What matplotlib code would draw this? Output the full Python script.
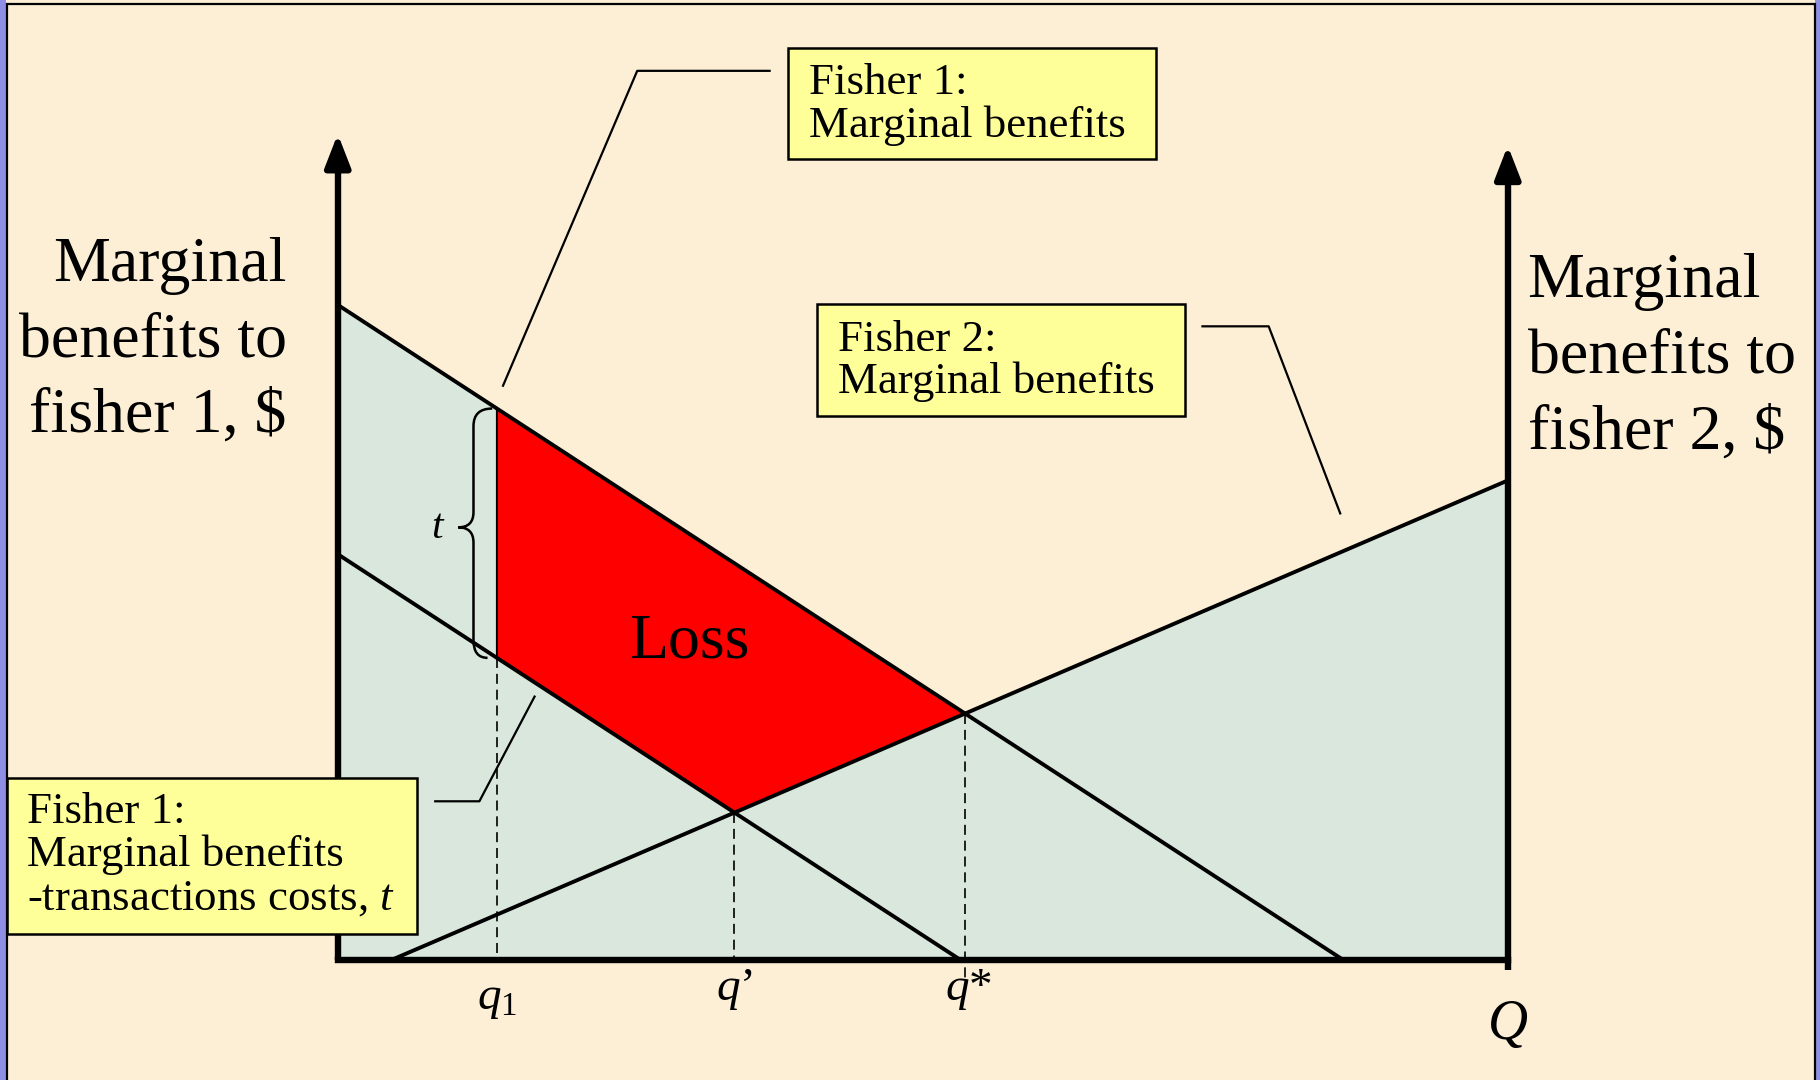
import numpy as np
import matplotlib
matplotlib.use("Agg")
import matplotlib.pyplot as plt
from matplotlib.patches import Rectangle, Polygon, PathPatch
from matplotlib.path import Path

# ---------------- data (economic units) ----------------
mb1_q = [0.0, 86.0]        # Fisher 1 marginal benefits
mb1_v = [56.0, 0.0]
t_cost = 21.3              # transaction cost t
mb2_q = [4.5, 100.0]       # Fisher 2 marginal benefits (measured from right)
mb2_v = [0.0, 41.0]
q1 = 13.6
q_max = 100.0
left_axis_top = 70.6
right_axis_top = 69.6

# ---------------- style / fonts ----------------
plt.rcParams['font.family'] = ['Liberation Serif', 'DejaVu Serif']
plt.rcParams['mathtext.fontset'] = 'custom'
plt.rcParams['mathtext.rm'] = 'Liberation Serif'
plt.rcParams['mathtext.it'] = 'Liberation Serif:italic'

BG = '#fcefd6'
FILL = '#d9e7dc'
RED = '#ff0000'
BOX = '#ffff99'

S = 10.08  # reference px per unit


def P(x, y):
    """Layout helper: reference-image position -> data coordinates."""
    return ((x - 291) / S, (827 - y) / S)


fig = plt.figure(figsize=(18.2, 10.8), dpi=100)
fig.patch.set_facecolor(BG)
ax = fig.add_axes([0, 0, 1, 1])
ax.set_xlim(-291 / S, (1568 - 291) / S)
ax.set_ylim(-(930 - 827) / S, 827 / S)
ax.axis('off')
ax.set_facecolor(BG)

# side strips and frame
fig.patches.append(Rectangle((0, 0), 0.0035, 1, transform=fig.transFigure,
                             facecolor='#8f8fe6', edgecolor='none', zorder=0))
fig.patches.append(Rectangle((0.9975, 0), 0.0025, 1, transform=fig.transFigure,
                             facecolor='#8f8fe6', edgecolor='none', zorder=0))
fig.patches.append(Rectangle((0.0038, -0.02), 0.9935, 1.016, transform=fig.transFigure,
                             facecolor='none', edgecolor='black', lw=1.6, zorder=1))


# lines as functions
def mb1(q):
    return np.interp(q, mb1_q, mb1_v)


def mb1t(q):
    return mb1(q) - t_cost


s1 = (mb1_v[0] - mb1_v[1]) / (mb1_q[1] - mb1_q[0])
s2 = (mb2_v[1] - mb2_v[0]) / (mb2_q[1] - mb2_q[0])


def mb2(q):
    return mb2_v[0] + s2 * (q - mb2_q[0])


# intersections
q_star = (mb1_v[0] + s2 * mb2_q[0]) / (s1 + s2)
q_prime = (mb1_v[0] - t_cost + s2 * mb2_q[0]) / (s1 + s2)
v_star = mb2(q_star)
v_prime = mb2(q_prime)
q_zero_t = (mb1_v[0] - t_cost) / s1

# shaded area: under fisher-1 MB left of q*, under fisher-2 MB right of q*
qq = np.array([0, q_star, q_max])
top = np.array([mb1(0), v_star, mb2(q_max)])
ax.fill_between(qq, 0, top, color=FILL, lw=0, zorder=2)

# Loss polygon
loss = Polygon([(q1, mb1(q1)), (q_star, v_star), (q_prime, v_prime), (q1, mb1t(q1))],
               closed=True, facecolor=RED, edgecolor='black', lw=1.4, zorder=3)
ax.add_patch(loss)

# curves
LW = 2.8
ax.plot(mb1_q, mb1_v, color='black', lw=LW, zorder=5, solid_capstyle='butt')
ax.plot([0, q_zero_t], [mb1t(0), 0], color='black', lw=LW, zorder=5, solid_capstyle='butt')
ax.plot([mb2_q[0], q_max], [0, mb2(q_max)], color='black', lw=LW, zorder=5, solid_capstyle='butt')

# dashed guide lines
dash = dict(color='black', lw=1.2, dashes=(6, 3.5), zorder=4)
ax.plot([q1, q1], [mb1t(q1), 0], **dash)
ax.plot([q_prime, q_prime], [v_prime, 0], **dash)
ax.plot([q_star, q_star], [v_star, -2.1], **dash)

# axes
AW = 4.6
ax.plot([0, q_max], [0, 0], color='black', lw=AW, zorder=6, solid_capstyle='projecting')
ax.plot([q_max, q_max], [-0.8, right_axis_top - 2], color='black', lw=AW, zorder=6,
        solid_capstyle='butt')
ax.plot([0, 0], [0, left_axis_top - 2], color='black', lw=AW, zorder=6, solid_capstyle='butt')
for xa, ya in [(0, left_axis_top), (q_max, right_axis_top)]:
    ax.annotate('', xy=(xa, ya), xytext=(xa, ya - 2.5),
                arrowprops=dict(arrowstyle='-|>,head_length=0.9,head_width=0.35',
                                color='black', lw=AW, shrinkA=0, shrinkB=0,
                                mutation_scale=22), zorder=6)

# brace for t
vt, vb = mb1(q1), mb1t(q1)
vm = (vt + vb) / 2 + 0.5
xs = q1 - 2.0
xtip = q1 - 3.3
verts = [(q1 - 0.4, vt), (xs, vt), (xs, vt - 1.5),
         (xs, vm + 1.3),
         (xs, vm), (xtip, vm),
         (xs, vm), (xs, vm - 1.3),
         (xs, vb + 1.5),
         (xs, vb), (q1 - 0.8, vb)]
codes = [Path.MOVETO, Path.CURVE3, Path.CURVE3,
         Path.LINETO,
         Path.CURVE3, Path.CURVE3,
         Path.CURVE3, Path.CURVE3,
         Path.LINETO,
         Path.CURVE3, Path.CURVE3]
ax.add_patch(PathPatch(Path(verts, codes), facecolor='none', edgecolor='black',
                       lw=1.8, zorder=6))
ax.text(*P(384, 463), '$t$', fontsize=30, ha='right', va='baseline', zorder=7)

# leader lines
LL = dict(color='black', lw=1.6, zorder=6, solid_capstyle='butt')
ax.plot(*zip(P(433, 333), P(549, 61), P(664, 61)), **LL)
ax.plot(*zip(P(1035, 281), P(1093, 281), P(1155, 443)), **LL)
ax.plot(*zip(P(461, 599), P(413, 690), P(374, 690)), **LL)


# text boxes
def box(x0, y0, x1, y1):
    (ax0, ay0), (ax1, ay1) = P(x0, y1), P(x1, y0)
    ax.add_patch(Rectangle((ax0, ay0), ax1 - ax0, ay1 - ay0, facecolor=BOX,
                           edgecolor='black', lw=1.8, zorder=8))


BFS = 32.3
box(679, 41, 996, 137)
ax.text(*P(697, 81), 'Fisher 1:', fontsize=BFS, va='baseline', zorder=9)
ax.text(*P(697, 118), 'Marginal benefits', fontsize=BFS, va='baseline', zorder=9)

box(704, 262, 1021, 358)
ax.text(*P(722, 302), 'Fisher 2:', fontsize=BFS, va='baseline', zorder=9)
ax.text(*P(722, 338), 'Marginal benefits', fontsize=BFS, va='baseline', zorder=9)

box(6, 670, 359, 804)
ax.text(*P(23, 709), 'Fisher 1:', fontsize=BFS, va='baseline', zorder=9)
ax.text(*P(23, 746), 'Marginal benefits', fontsize=BFS, va='baseline', zorder=9)
ax.text(*P(23, 783), '-transactions costs, $t$', fontsize=BFS, va='baseline', zorder=9)

# axis titles
TFS = 46
for txt, yb in [('Marginal', 242), ('benefits to', 307), ('fisher 1, $', 372)]:
    ax.text(*P(247, yb), txt, fontsize=TFS, ha='right', va='baseline', zorder=7)
for txt, yb in [('Marginal', 256), ('benefits to', 321), ('fisher 2, $', 386)]:
    ax.text(*P(1316, yb), txt, fontsize=TFS, ha='left', va='baseline', zorder=7)

# Loss label
ax.text(*P(594, 566), 'Loss', fontsize=46, ha='center', va='baseline', zorder=7)

# quantity labels
ax.text(q1, P(0, 869)[1], '$q_1$', fontsize=34, ha='center', va='baseline', zorder=7)
ax.text(q_prime, P(0, 861)[1], '$q$\u2019', fontsize=34, ha='center', va='baseline', zorder=7)
ax.text(q_star + 0.3, P(0, 861)[1], '$q$*', fontsize=34, ha='center', va='baseline', zorder=7)
ax.text(q_max, P(0, 895)[1], '$Q$', fontsize=40, ha='center', va='baseline', zorder=7)

fig.savefig('out.png', dpi=100, facecolor=BG)
